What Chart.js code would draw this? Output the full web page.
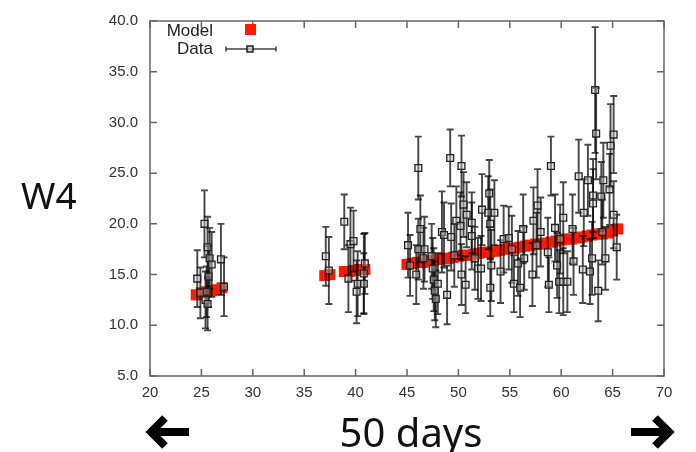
<!DOCTYPE html>
<html>
<head>
<meta charset="utf-8">
<script src="https://cdn.jsdelivr.net/npm/chart.js@4.4.1/dist/chart.umd.min.js"></script>
<style>
  body { margin: 0; background: #fff; }
  #wrap { position: relative; width: 696px; height: 452px; overflow: hidden; }
  #w4 { position: absolute; left: 21px; top: 176px; font: 37px "Noto Sans"; line-height: 1; color: #111; }
  #days { position: absolute; left: 411px; top: 412px; transform: translateX(-50%); font: 40px "Noto Sans"; line-height: 1; color: #111; white-space: nowrap; }
</style>
</head>
<body>
<div id="wrap">
  <canvas id="c" width="696" height="452"></canvas>
  <div id="w4">W4</div>
  <div id="days">50 days</div>
</div>
<script>
// model curve (red squares)
var modelX = [24.5, 25, 25.5, 26, 26.5, 27,
  37, 37.5, 38.9, 39.4, 39.9, 40.4, 40.9,
  45, 45.5, 46, 46.5, 47, 47.5, 48, 48.5, 49, 49.5, 50, 50.5, 51, 51.5, 52, 52.5, 53, 53.5,
  54, 54.5, 55, 55.5, 56, 56.5, 57, 57.5, 58, 58.5, 59, 59.5, 60, 60.5, 61, 61.5, 62, 62.5,
  63, 63.5, 64, 64.5, 65, 65.5];
var modelY = [13.0, 13.2, 13.3, 13.4, 13.5, 13.7,
  14.9, 15.0, 15.3, 15.3, 15.4, 15.5, 15.5,
  16.0, 16.1, 16.2, 16.2, 16.3, 16.4, 16.5, 16.6, 16.6, 16.7, 16.8, 16.9, 16.9, 17.0, 17.1, 17.2, 17.2, 17.3,
  17.4, 17.5, 17.6, 17.6, 17.7, 17.8, 17.9, 18.0, 18.0, 18.1, 18.2, 18.3, 18.4, 18.5, 18.5, 18.6, 18.7, 18.8,
  18.9, 19.0, 19.0, 19.1, 19.3, 19.5];

// observations with symmetric errors
var dataX = [24.6, 24.9, 25.3, 25.4, 25.5, 25.6, 25.6, 25.7, 25.8, 26.0, 26.9, 27.2,
  37.1, 37.4, 38.9, 39.3, 39.5, 39.8, 40.1, 40.2, 40.8, 40.8, 40.9,
  45.1, 45.3, 45.9, 46.1, 46.1, 46.3, 46.6, 46.7, 47.4, 47.5, 47.6, 47.7, 47.8, 48.0,
  48.4, 48.6, 48.9, 49.2, 49.3, 49.6, 49.8, 50.2, 50.3, 50.3, 50.5, 50.7, 50.8, 51.3, 51.3, 51.6, 51.9,
  52.2, 52.3, 52.9, 53.0, 53.1, 53.1, 53.2, 53.5, 54.1, 54.4, 54.9, 55.2, 55.4, 55.8, 56.0, 56.3, 56.4,
  57.2, 57.3, 57.6, 57.7, 58.0, 58.7, 58.8, 59.0, 59.4, 59.6, 59.8, 59.9,
  60.2, 60.2, 60.6, 61.1, 61.2, 61.7, 62.1, 62.2, 62.6, 62.8, 63.0, 63.1, 63.1, 63.3, 63.4, 63.6,
  63.9, 64.0, 64.1, 64.3, 64.7, 64.8, 65.1, 65.1, 65.4];
var dataY = [14.6, 13.2, 20.0, 12.5, 13.3, 17.7, 12.1, 14.8, 16.6, 16.0, 16.5, 13.8,
  16.8, 15.4, 20.2, 14.6, 18.0, 18.3, 13.3, 14.1, 14.1, 15.1, 16.1,
  17.9, 15.9, 15.0, 25.5, 17.5, 19.5, 16.6, 17.5, 16.8, 15.6, 14.5, 13.4, 12.6, 14.1,
  19.2, 18.9, 13.0, 26.5, 18.7, 16.9, 20.3, 19.8, 25.7, 15.0, 21.9, 14.0, 20.9, 18.8, 20.1, 16.6, 15.6,
  15.6, 21.4, 21.1, 23.0, 20.0, 13.7, 15.9, 21.1, 15.3, 18.5, 18.6, 17.5, 14.1, 16.1, 13.7, 19.5, 16.6,
  15.0, 20.3, 17.9, 21.8, 19.2, 17.2, 14.0, 25.7, 19.6, 15.9, 14.3, 18.5,
  20.6, 14.3, 14.3, 19.5, 16.3, 24.7, 15.5, 21.1, 24.3, 15.3, 16.6, 22.8, 22.0, 33.2, 28.9, 13.4,
  22.7, 19.2, 24.3, 16.6, 23.4, 27.7, 28.8, 20.9, 17.7];
var dataErr = [2.8, 2.5, 3.3, 2.8, 2.5, 3.0, 2.6, 3.0, 3.0, 3.2, 3.5, 2.9,
  2.9, 3.3, 2.7, 3.3, 3.6, 3.0, 3.1, 3.2, 3.0, 3.9, 3.0,
  3.2, 3.0, 2.9, 3.1, 3.0, 3.3, 3.0, 3.2, 3.2, 3.0, 3.1, 2.9, 2.8, 3.0,
  4.0, 3.2, 2.9, 2.8, 3.3, 3.1, 3.4, 3.3, 3.0, 3.0, 3.2, 2.8, 3.2, 3.3, 3.0, 3.1, 3.0,
  3.2, 3.5, 3.6, 3.3, 3.4, 2.8, 3.5, 3.2, 3.1, 3.3, 3.1, 3.3, 2.8, 3.2, 2.9, 3.4, 3.1,
  3.1, 3.3, 3.2, 3.6, 3.4, 3.4, 2.7, 2.9, 3.3, 3.2, 3.1, 3.4,
  3.5, 3.3, 3.0, 3.4, 3.3, 3.6, 3.3, 3.3, 3.5, 3.2, 3.6, 3.6, 3.4, 6.2, 4.5, 3.0,
  3.4, 3.2, 3.7, 3.1, 3.5, 4.1, 3.8, 3.3, 3.2];

var xMin = 20, xMax = 70, xStep = 5;
var yMin = 5, yMax = 40, yStep = 5;

var tickFont = { family: '"Liberation Sans", Arial, sans-serif', size: 15 };

function pairs(xs, ys) {
  return xs.map(function (x, i) { return { x: x, y: ys[i] }; });
}

// gnuplot style box with inward ticks on all sides
const frameTicks = {
  id: 'frameTicks',
  beforeDatasetsDraw(chart) {
    const ctx = chart.ctx, a = chart.chartArea;
    const xs = chart.scales.x, ys = chart.scales.y;
    ctx.save();
    ctx.strokeStyle = '#666';
    ctx.lineWidth = 1.5;
    ctx.strokeRect(a.left, a.top, a.right - a.left, a.bottom - a.top);
    ctx.beginPath();
    xs.ticks.forEach(function (t) {
      const px = xs.getPixelForValue(t.value);
      ctx.moveTo(px, a.bottom); ctx.lineTo(px, a.bottom - 7);
      ctx.moveTo(px, a.top); ctx.lineTo(px, a.top + 7);
    });
    ys.ticks.forEach(function (t) {
      const py = ys.getPixelForValue(t.value);
      ctx.moveTo(a.left, py); ctx.lineTo(a.left + 7, py);
      ctx.moveTo(a.right, py); ctx.lineTo(a.right - 7, py);
    });
    ctx.stroke();
    ctx.restore();
  }
};

// error bars, drawn just before the data boxes
const errorBars = {
  id: 'errorBars',
  beforeDatasetDraw(chart, args) {
    if (chart.data.datasets[args.index].label !== 'Data') return;
    const ctx = chart.ctx, xs = chart.scales.x, ys = chart.scales.y;
    ctx.save();
    ctx.strokeStyle = 'rgba(0,0,0,0.72)';
    ctx.lineWidth = 1.9;
    dataX.forEach(function (x, i) {
      const px = xs.getPixelForValue(x);
      const top = ys.getPixelForValue(dataY[i] + dataErr[i]);
      const bot = ys.getPixelForValue(dataY[i] - dataErr[i]);
      ctx.beginPath();
      ctx.moveTo(px, top); ctx.lineTo(px, bot);
      ctx.moveTo(px - 3.5, top); ctx.lineTo(px + 3.5, top);
      ctx.moveTo(px - 3.5, bot); ctx.lineTo(px + 3.5, bot);
      ctx.stroke();
    });
    ctx.restore();
  }
};

// legend in the gnuplot layout, text on the left of the sample
const keyBox = {
  id: 'keyBox',
  afterDraw(chart) {
    const ctx = chart.ctx;
    ctx.save();
    ctx.font = '17px "Liberation Sans", Arial, sans-serif';
    ctx.fillStyle = '#222';
    ctx.textAlign = 'right';
    ctx.textBaseline = 'middle';
    ctx.fillText('Model', 213, 31);
    ctx.fillText('Data', 213, 49);
    ctx.fillStyle = '#ff1a00';
    ctx.fillRect(245, 24, 11, 11);
    ctx.strokeStyle = 'rgba(0,0,0,0.75)';
    ctx.lineWidth = 1.5;
    ctx.beginPath();
    ctx.moveTo(226, 49); ctx.lineTo(276, 49);
    ctx.moveTo(226, 46.5); ctx.lineTo(226, 51.5);
    ctx.moveTo(276, 46.5); ctx.lineTo(276, 51.5);
    ctx.stroke();
    ctx.fillStyle = 'rgba(200,200,200,0.8)';
    ctx.fillRect(247, 46, 6, 6);
    ctx.strokeStyle = '#222';
    ctx.strokeRect(247, 46, 6, 6);
    ctx.restore();
  }
};

// the two big arrows under the axis
const arrows = {
  id: 'arrows',
  afterDraw(chart) {
    const ctx = chart.ctx;
    function arrow(tipX, tailX, y) {
      const dir = tailX > tipX ? 1 : -1;
      ctx.beginPath();
      ctx.moveTo(tipX + dir * 4, y);
      ctx.lineTo(tailX, y);
      ctx.lineWidth = 8;
      ctx.stroke();
      ctx.beginPath();
      ctx.moveTo(tipX + dir * 18, y - 14);
      ctx.lineTo(tipX + dir * 4, y);
      ctx.lineTo(tipX + dir * 18, y + 14);
      ctx.lineWidth = 8;
      ctx.stroke();
    }
    ctx.save();
    ctx.strokeStyle = '#000';
    ctx.lineCap = 'butt';
    ctx.lineJoin = 'miter';
    arrow(147, 189, 432);
    arrow(673, 631, 432);
    ctx.restore();
  }
};

new Chart(document.getElementById('c'), {
  type: 'scatter',
  data: {
    datasets: [{
      label: 'Model',
      data: pairs(modelX, modelY),
      pointStyle: 'rect',
      pointRadius: 7.8,
      backgroundColor: '#ff1a00',
      borderWidth: 0,
      order: 2
    }, {
      label: 'Data',
      data: pairs(dataX, dataY),
      pointStyle: 'rect',
      pointRadius: 4.8,
      backgroundColor: 'rgba(200,200,200,0.45)',
      borderColor: '#222',
      borderWidth: 1.3,
      order: 1
    }]
  },
  options: {
    responsive: false,
    animation: false,
    devicePixelRatio: 1,
    layout: { padding: { left: 0, right: 32, top: 15, bottom: 46 } },
    plugins: {
      legend: { display: false },
      tooltip: { enabled: false }
    },
    scales: {
      x: {
        type: 'linear',
        min: xMin, max: xMax,
        grid: { display: false, drawTicks: false },
        border: { display: false },
        ticks: { stepSize: xStep, font: tickFont, color: '#333', padding: 8 },
        afterFit: function (s) { s.height = 30; }
      },
      y: {
        min: yMin, max: yMax,
        grid: { display: false, drawTicks: false },
        border: { display: false },
        ticks: {
          stepSize: yStep, font: tickFont, color: '#333', padding: 12,
          callback: function (v) { return v.toFixed(1); }
        },
        afterFit: function (s) { s.width = 150; }
      }
    }
  },
  plugins: [frameTicks, errorBars, keyBox, arrows]
});
</script>
</body>
</html>
